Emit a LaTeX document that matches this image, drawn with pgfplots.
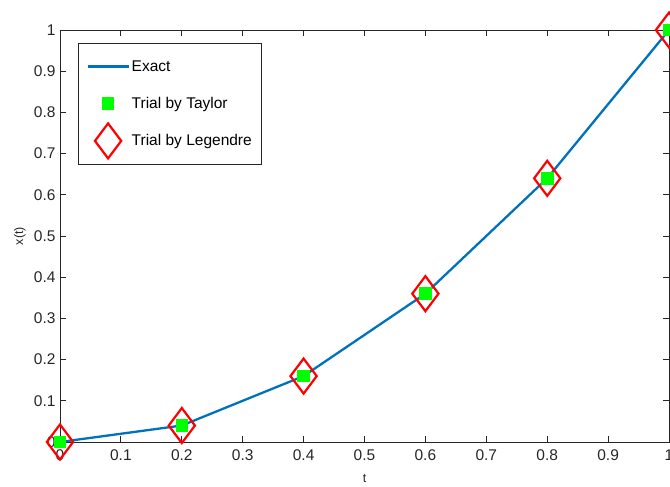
\documentclass[border=0pt]{standalone}
\usepackage{fontspec}
\setmainfont{Liberation Sans}
\usepackage{pgfplots}
\pgfplotsset{compat=1.18}
\definecolor{mblue}{rgb}{0,0.447,0.741}
\definecolor{axgray}{rgb}{0.15,0.15,0.15}
\begin{document}
\begin{tikzpicture}
\begin{axis}[
  set layers,
  at={(0pt,0pt)}, anchor=south west,
  scale only axis,
  width=609pt, height=412pt,
  xmin=0, xmax=1, ymin=0, ymax=1,
  clip=false,
  xtick={0,0.1,0.2,0.3,0.4,0.5,0.6,0.7,0.8,0.9,1},
  ytick={0,0.1,0.2,0.3,0.4,0.5,0.6,0.7,0.8,0.9,1},
  /pgf/number format/assume math mode=true,
  /pgf/number format/fixed,
  /pgf/number format/precision=1,
  tick pos=both, tick align=inside,
  major tick length=6pt,
  axis line style={axgray, line width=0.9pt},
  every tick/.style={axgray, line width=0.9pt},
  ticklabel style={font=\fontsize{15.5}{18}\selectfont, text=axgray},
  xticklabel style={yshift=-4pt},
  yticklabel style={xshift=-1pt},
  xlabel={t}, ylabel={x(t)},
  label style={font=\fontsize{12.5}{14}\selectfont, text=axgray},
  xlabel style={at={(axis description cs:0.5,-37/412)}, anchor=center},
  ylabel style={at={(axis description cs:-40/609,0.5)}, anchor=center},
  legend style={
    at={(18/609,1-13/412)}, anchor=north west,
    draw=axgray, line width=0.9pt, fill=white,
    font=\fontsize{15.5}{18}\selectfont,
    inner xsep=8pt, inner ysep=6pt,
    row sep=3pt,
    nodes={minimum height=34pt},
    /tikz/every even column/.append style={column sep=5pt},
  },
  legend cell align=left,
  legend image code/.code={
    \draw[mark repeat=2,mark phase=2,#1] plot coordinates {(0pt,0pt) (20.5pt,0pt) (41pt,0pt)};
  },
]
\addplot[mblue, line width=2.3pt, mark=none] coordinates {
  (0,0) (0.2,0.04) (0.4,0.16) (0.6,0.36) (0.8,0.64) (1,1)
};
\addlegendentry{Exact}
\addplot[only marks, mark=square*, mark size=5.8pt,
  mark options={fill=green, draw=green, line width=0pt}] coordinates {
  (0,0) (0.2,0.04) (0.4,0.16) (0.6,0.36) (0.8,0.64) (1,1)
};
\addlegendentry{Trial by Taylor}
\addplot[only marks, mark=diamond, mark size=17.5pt,
  mark options={draw=red, line width=2.2pt}] coordinates {
  (0,0) (0.2,0.04) (0.4,0.16) (0.6,0.36) (0.8,0.64) (1,1)
};
\addlegendentry{Trial by Legendre}
\end{axis}
\pgfresetboundingbox
\useasboundingbox (-60pt,-45pt) rectangle (610pt,442pt);
\end{tikzpicture}
\end{document}
